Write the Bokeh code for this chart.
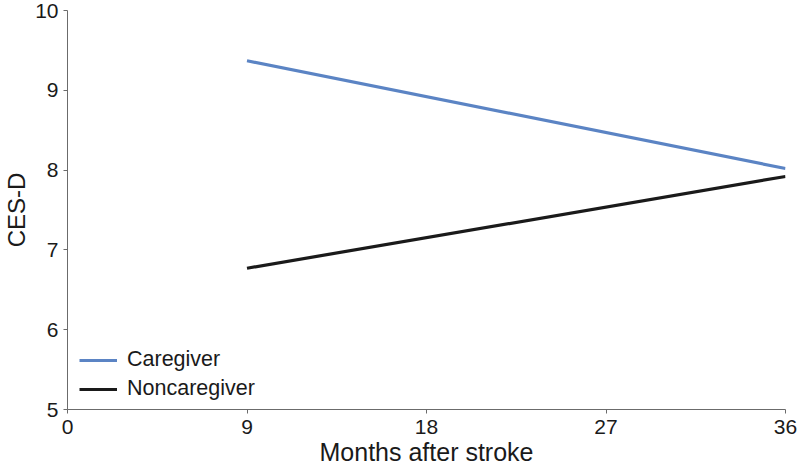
from bokeh.plotting import figure
from bokeh.models import Range1d, Legend, LegendItem, FixedTicker
from bokeh.embed import file_html
from bokeh.resources import INLINE

months = [9, 36]
caregiver = [9.37, 8.02]
noncaregiver = [6.77, 7.92]
x_ticks = [0, 9, 18, 27, 36]
y_ticks = [5, 6, 7, 8, 9, 10]

p = figure(width=797, height=478, output_backend="svg", toolbar_location=None,
           x_range=Range1d(0, 36), y_range=Range1d(5, 10),
           min_border_left=67, min_border_right=12, min_border_top=10, min_border_bottom=69)
p.outline_line_color = None
p.grid.visible = False
p.background_fill_color = "white"

FONT = "Liberation Sans"
for ax in (p.xaxis[0], p.yaxis[0]):
    ax.axis_line_color = "#6b6b6b"
    ax.axis_line_width = 1
    ax.major_tick_line_color = "#6b6b6b"
    ax.major_tick_out = 4
    ax.major_tick_in = 0
    ax.minor_tick_line_color = None
    ax.major_label_text_font = FONT
    ax.major_label_text_font_size = "21px"
    ax.major_label_text_color = "#1a1a1a"
    ax.axis_label_text_font = FONT
    ax.axis_label_text_font_style = "normal"
    ax.axis_label_text_color = "#1a1a1a"

p.xaxis.ticker = FixedTicker(ticks=x_ticks)
p.yaxis.ticker = FixedTicker(ticks=y_ticks)
p.xaxis.axis_label = "Months after stroke"
p.yaxis.axis_label = "CES-D"
p.xaxis.axis_label_text_font_size = "25px"
p.yaxis.axis_label_text_font_size = "24px"
p.xaxis.major_label_standoff = 6
p.xaxis.axis_label_standoff = 1
p.yaxis.major_label_standoff = 5
p.yaxis.axis_label_standoff = 2

r1 = p.line(months, caregiver, line_color="#5b84c4", line_width=3.2)
r2 = p.line(months, noncaregiver, line_color="#1a1a1a", line_width=3.2)

legend = Legend(items=[LegendItem(label="Caregiver", renderers=[r1]),
                       LegendItem(label="Noncaregiver", renderers=[r2])],
                location=(12, 8))
legend.border_line_color = None
legend.background_fill_alpha = 0
legend.label_text_font = FONT
legend.label_text_font_size = "21.5px"
legend.label_text_color = "#1a1a1a"
legend.glyph_width = 38
legend.label_standoff = 10
legend.spacing = 4
legend.padding = 4
p.add_layout(legend)

open("out.html", "w").write(file_html(p, INLINE))
